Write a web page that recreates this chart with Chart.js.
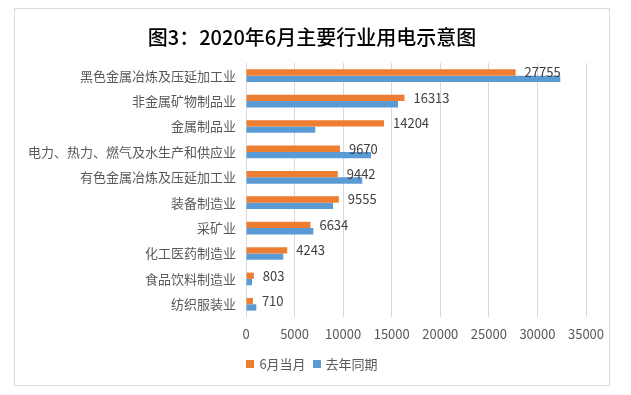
<!DOCTYPE html>
<html>
<head>
<meta charset="utf-8">
<script src="https://cdn.jsdelivr.net/npm/chart.js@4"></script>
<style>
html,body{margin:0;padding:0;background:#fff;}
#wrap{position:relative;width:631px;height:395px;}
</style>
</head>
<body>
<div id="wrap"><canvas id="c" width="631" height="395"></canvas></div>
<script>
const categories = ["黑色金属冶炼及压延加工业","非金属矿物制品业","金属制品业","电力、热力、燃气及水生产和供应业","有色金属冶炼及压延加工业","装备制造业","采矿业","化工医药制造业","食品饮料制造业","纺织服装业"];
const juneValues = [27755,16313,14204,9670,9442,9555,6634,4243,803,710];
const lastYearValues = [32350,15650,7130,12870,11970,8960,6930,3840,620,1060];
const seriesNames = ["6月当月","去年同期"];
const seriesColors = ["#ED7D31","#5B9BD5"];
const titleText = "图3：2020年6月主要行业用电示意图";
const xTicks = [0,5000,10000,15000,20000,25000,30000,35000];

const FONT = "'Noto Sans CJK SC','Microsoft YaHei',sans-serif";

const framePlugin = {
  id: 'frame',
  beforeDraw(chart) {
    const ctx = chart.ctx;
    ctx.save();
    ctx.fillStyle = '#fff';
    ctx.fillRect(0,0,chart.width,chart.height);
    ctx.strokeStyle = '#d9d9d9';
    ctx.lineWidth = 1;
    ctx.strokeRect(14.5, 8.5, 595, 377);
    ctx.restore();
  },
  afterDraw(chart) {
    const ctx = chart.ctx;
    ctx.save();
    // title
    ctx.font = "500 20px " + FONT;
    ctx.fillStyle = '#000';
    ctx.textAlign = 'center';
    ctx.textBaseline = 'middle';
    ctx.fillText(titleText, 312, 37);
    // legend
    ctx.font = "13px " + FONT;
    ctx.textAlign = 'left';
    const box = 8, gapText = 5, gapItem = 7;
    const items = chart.data.datasets.map(d => ({ text: d.label, color: d.backgroundColor, w: ctx.measureText(d.label).width }));
    let total = 0;
    items.forEach((it, i) => { total += box + gapText + it.w + (i < items.length - 1 ? gapItem : 0); });
    let x = 312 - total / 2;
    const cy = 364;
    items.forEach(it => {
      ctx.fillStyle = it.color;
      ctx.fillRect(Math.round(x), cy - 4, box, box);
      x += box + gapText;
      ctx.fillStyle = '#595959';
      ctx.fillText(it.text, x, cy);
      x += it.w + gapItem;
    });
    ctx.restore();
  }
};

const labelPlugin = {
  id: 'valueLabels',
  afterDatasetsDraw(chart) {
    const ctx = chart.ctx;
    const meta = chart.getDatasetMeta(0);
    const xs = chart.scales.x;
    ctx.save();
    ctx.font = "13px " + FONT;
    ctx.fillStyle = '#404040';
    ctx.textAlign = 'left';
    ctx.textBaseline = 'middle';
    meta.data.forEach((bar, i) => {
      const v = chart.data.datasets[0].data[i];
      ctx.fillText(String(v), xs.getPixelForValue(v) + 9, bar.y);
    });
    ctx.restore();
  }
};

new Chart(document.getElementById('c'), {
  type: 'bar',
  data: {
    labels: categories,
    datasets: [
      { label: seriesNames[0], data: juneValues, backgroundColor: seriesColors[0], borderWidth: 0 },
      { label: seriesNames[1], data: lastYearValues, backgroundColor: seriesColors[1], borderWidth: 0 }
    ]
  },
  options: {
    indexAxis: 'y',
    responsive: false,
    animation: false,
    devicePixelRatio: 1,
    layout: { padding: { left: 0, right: 45, top: 63, bottom: 46 } },
    datasets: { bar: { categoryPercentage: 0.5, barPercentage: 1.0 } },
    scales: {
      x: {
        min: 0, max: 35000,
        afterBuildTicks(scale) { scale.ticks = xTicks.map(v => ({ value: v })); },
        ticks: { font: { size: 13, family: FONT }, color: '#595959', padding: 9, maxRotation: 0,
                 callback: (v) => String(v) },
        grid: { color: '#d9d9d9', drawTicks: false },
        border: { display: false },
        afterFit(scale) { scale.height = 32; }
      },
      y: {
        ticks: { font: { size: 13, family: FONT }, color: '#595959', padding: 10 },
        grid: { display: false, drawTicks: false },
        border: { display: false },
        afterFit(scale) { scale.width = 246; }
      }
    },
    plugins: {
      title: { display: false },
      legend: { display: false },
      tooltip: { enabled: false }
    }
  },
  plugins: [framePlugin, labelPlugin]
});
</script>
</body>
</html>
